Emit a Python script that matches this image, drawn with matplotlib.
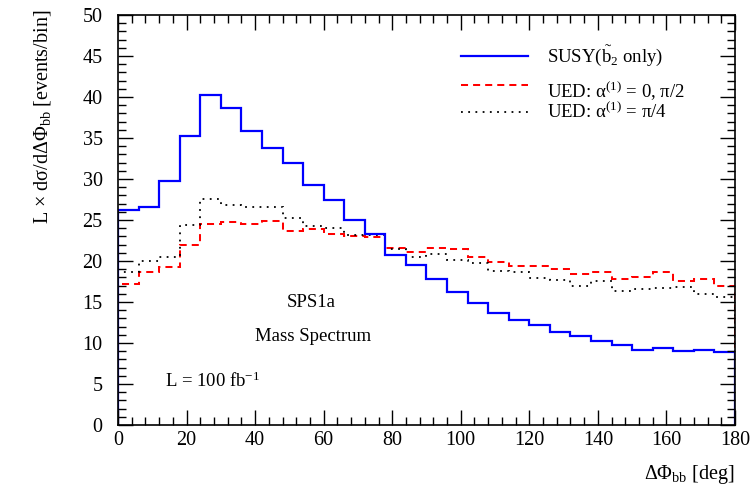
import numpy as np
import matplotlib
matplotlib.use("Agg")
import matplotlib.pyplot as plt
from matplotlib.lines import Line2D
from matplotlib.ticker import MultipleLocator

plt.rcParams['font.family'] = ['Liberation Serif', 'DejaVu Serif']
plt.rcParams['mathtext.fontset'] = 'custom'
plt.rcParams['mathtext.rm'] = 'Liberation Serif'
plt.rcParams['mathtext.it'] = 'Liberation Serif:italic'

# Azimuthal separation of the two b jets, 6-degree bins
bin_edges = np.arange(0, 181, 6)

susy_b2 = [26.2, 26.6, 29.8, 35.2, 40.2, 38.7, 35.9, 33.8, 31.9, 29.3,
           27.4, 25.0, 23.3, 20.7, 19.5, 17.8, 16.2, 14.9, 13.6, 12.8,
           12.2, 11.4, 10.9, 10.3, 9.8, 9.2, 9.4, 9.0, 9.1, 8.9]

ued_0_pi2 = [17.2, 18.6, 19.3, 22.0, 24.5, 24.7, 24.5, 24.9, 23.6, 23.9,
             23.3, 23.0, 22.9, 21.6, 21.1, 21.6, 21.5, 20.5, 19.9, 19.4,
             19.4, 19.0, 18.4, 18.6, 17.8, 18.0, 18.6, 17.6, 17.8, 17.0]

ued_pi4 = [18.6, 20.0, 20.5, 24.4, 27.6, 26.8, 26.6, 26.6, 25.3, 24.3,
           24.0, 23.2, 23.2, 21.5, 20.5, 20.9, 20.1, 19.8, 18.8, 18.6,
           17.9, 17.7, 16.9, 17.6, 16.4, 16.6, 16.7, 16.8, 16.0, 15.6]

labels = [r'SUSY($\tilde{\mathrm{b}}_2$ only)',
          r'UED: α$^{(1)}$ = 0, π/2',
          r'UED: α$^{(1)}$ = π/4']

red_dash = (0, (3.5, 2.5))
black_dot = (0, (1, 3))

fig = plt.figure(figsize=(7.53, 4.90), dpi=100)
ax = fig.add_axes([0.1567, 0.1327, 0.8194, 0.8367])

ax.stairs(ued_0_pi2, bin_edges, baseline=0, color='#ff0000', lw=1.45,
          linestyle=red_dash)
ax.stairs(ued_pi4, bin_edges, baseline=0, color='black', lw=1.3,
          linestyle=black_dot)
ax.stairs(susy_b2, bin_edges, baseline=0, color='#0000ff', lw=1.6)

ax.set_xlim(0, 180)
ax.set_ylim(0, 50)
ax.xaxis.set_major_locator(MultipleLocator(20))
ax.xaxis.set_minor_locator(MultipleLocator(4))
ax.yaxis.set_major_locator(MultipleLocator(5))
ax.yaxis.set_minor_locator(MultipleLocator(1))
ax.tick_params(which='both', direction='in', top=True, right=True,
               labelsize=14.5, width=1.0)
ax.tick_params(which='major', length=11)
ax.tick_params(which='minor', length=6)
ax.tick_params(axis='x', which='major', pad=4)
ax.tick_params(axis='y', which='major', pad=11)
for sp in ax.spines.values():
    sp.set_linewidth(1.2)

fig.text(0.976, 0.031, r'ΔΦ$_{\mathrm{bb}}$ [deg]', ha='right', va='center',
         fontsize=14.5)
fig.text(0.057, 0.98, r'L × dσ/dΔΦ$_{\mathrm{bb}}$ [events/bin]',
         rotation=90, ha='center', va='top', fontsize=14.5)

# legend drawn in axes coordinates
leg_rows = [(0.900, 0.900), (0.829, 0.815), (0.763, 0.763)]
leg_styles = [dict(color='#0000ff', lw=1.6, linestyle='-'),
              dict(color='#ff0000', lw=1.45, linestyle=red_dash),
              dict(color='black', lw=1.3, linestyle=black_dot)]
for (yl, yt), style, lab in zip(leg_rows, leg_styles, labels):
    ax.add_line(Line2D([0.556, 0.665], [yl, yl], transform=ax.transAxes,
                       **style))
    ax.text(0.695, yt, lab, transform=ax.transAxes, ha='left', va='center',
            fontsize=13.5)

ax.text(0.314, 0.298, 'SPS1a', transform=ax.transAxes, ha='center',
        va='center', fontsize=13.5)
ax.text(0.316, 0.215, 'Mass Spectrum', transform=ax.transAxes, ha='center',
        va='center', fontsize=13.5)
ax.text(0.076, 0.107, r'L = 100 fb$^{-1}$', transform=ax.transAxes,
        ha='left', va='center', fontsize=13.5)

fig.savefig('out.png', dpi=100)
